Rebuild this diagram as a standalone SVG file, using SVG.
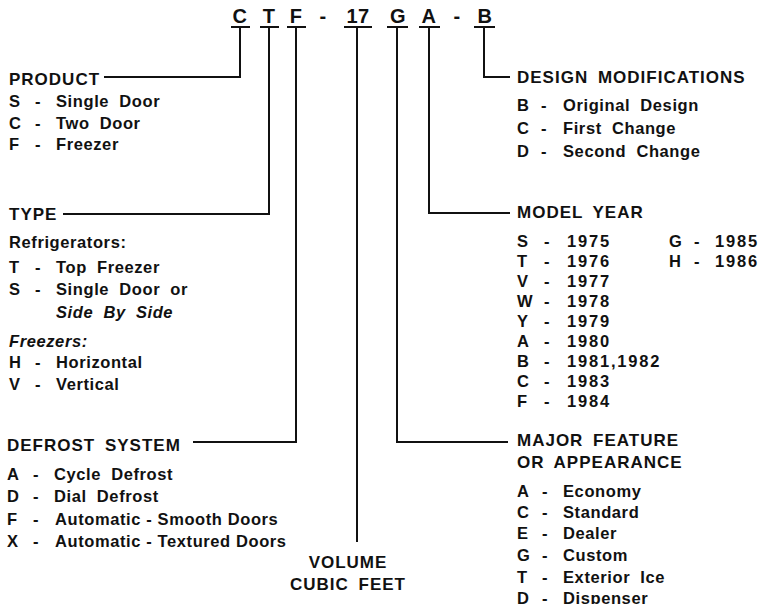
<svg xmlns="http://www.w3.org/2000/svg" width="763" height="604" viewBox="0 0 763 604">
<style>
text{font-family:"Liberation Sans",Arial,sans-serif;font-weight:bold;fill:#111}
.code{font-size:20px;letter-spacing:0.5px}
.h{font-size:17px;letter-spacing:1px;word-spacing:4px}
.i{font-size:16.5px;letter-spacing:0.6px}
.w{word-spacing:5px}
.y{letter-spacing:1.8px}
.it{font-style:italic}
.m{text-anchor:middle}
.ln{fill:none;stroke:#111;stroke-width:2}
</style>
<rect width="763" height="604" fill="#fff"/>
<g id="code">
<text class="code m" x="240" y="23">C</text>
<text class="code m" x="269" y="23">T</text>
<text class="code m" x="296" y="23">F</text>
<text class="code m" x="323" y="23">-</text>
<text class="code m" x="358" y="23">17</text>
<text class="code m" x="398" y="23">G</text>
<text class="code m" x="429" y="23">A</text>
<text class="code m" x="457" y="23">-</text>
<text class="code m" x="485" y="23">B</text>
<path class="ln" d="M231,27H250M260,27H279M287,27H306M344,27H372M387,27H408M419,27H440M474,27H495"/>
</g>
<g id="connectors">
<path class="ln" d="M240,27V77H104"/>
<path class="ln" d="M269,27V214H63"/>
<path class="ln" d="M296,27V442H193"/>
<path class="ln" d="M357,27V542"/>
<path class="ln" d="M397,27V442H508"/>
<path class="ln" d="M429,27V213H510"/>
<path class="ln" d="M484,27V77H510"/>
</g>
<g id="product">
<text class="h" x="9" y="85">PRODUCT</text>
<text class="i" x="9" y="107">S</text><text class="i m" x="38" y="107">-</text><text class="i w" x="56" y="107">Single Door</text>
<text class="i" x="9" y="128.5">C</text><text class="i m" x="38" y="128.5">-</text><text class="i w" x="56" y="128.5">Two Door</text>
<text class="i" x="9" y="150">F</text><text class="i m" x="38" y="150">-</text><text class="i" x="56" y="150">Freezer</text>
</g>
<g id="type">
<text class="h" x="9" y="220">TYPE</text>
<text class="i" x="9" y="248">Refrigerators:</text>
<text class="i" x="9" y="273">T</text><text class="i m" x="38" y="273">-</text><text class="i w" x="56" y="273">Top Freezer</text>
<text class="i" x="9" y="295">S</text><text class="i m" x="38" y="295">-</text><text class="i w" x="56" y="295">Single Door or</text>
<text class="i w it" x="56" y="318">Side By Side</text>
<text class="i it" x="9" y="347">Freezers:</text>
<text class="i" x="9" y="368">H</text><text class="i m" x="38" y="368">-</text><text class="i" x="56" y="368">Horizontal</text>
<text class="i" x="9" y="390">V</text><text class="i m" x="38" y="390">-</text><text class="i" x="56" y="390">Vertical</text>
</g>
<g id="defrost">
<text class="h" x="7" y="451">DEFROST SYSTEM</text>
<text class="i" x="7" y="480">A</text><text class="i m" x="36" y="480">-</text><text class="i w" x="54" y="480">Cycle Defrost</text>
<text class="i" x="7" y="502">D</text><text class="i m" x="36" y="502">-</text><text class="i w" x="54" y="502">Dial Defrost</text>
<text class="i" x="7" y="525">F</text><text class="i m" x="36" y="525">-</text><text class="i" x="55" y="525">Automatic - Smooth Doors</text>
<text class="i" x="7" y="547">X</text><text class="i m" x="36" y="547">-</text><text class="i" x="55" y="547">Automatic - Textured Doors</text>
</g>
<g id="volume">
<text class="h m" x="348" y="568">VOLUME</text>
<text class="h m" x="348" y="590">CUBIC FEET</text>
</g>
<g id="design">
<text class="h" x="517" y="83">DESIGN MODIFICATIONS</text>
<text class="i" x="517" y="111">B</text><text class="i m" x="544" y="111">-</text><text class="i w" x="563" y="111">Original Design</text>
<text class="i" x="517" y="134">C</text><text class="i m" x="544" y="134">-</text><text class="i w" x="563" y="134">First Change</text>
<text class="i" x="517" y="157">D</text><text class="i m" x="544" y="157">-</text><text class="i w" x="563" y="157">Second Change</text>
</g>
<g id="modelyear">
<text class="h" x="517" y="218">MODEL YEAR</text>
<text class="i" x="517" y="247">S</text><text class="i m" x="547" y="247">-</text><text class="i y" x="567" y="247">1975</text>
<text class="i" x="517" y="267">T</text><text class="i m" x="547" y="267">-</text><text class="i y" x="567" y="267">1976</text>
<text class="i" x="517" y="287">V</text><text class="i m" x="547" y="287">-</text><text class="i y" x="567" y="287">1977</text>
<text class="i" x="517" y="307">W</text><text class="i m" x="547" y="307">-</text><text class="i y" x="567" y="307">1978</text>
<text class="i" x="517" y="327">Y</text><text class="i m" x="547" y="327">-</text><text class="i y" x="567" y="327">1979</text>
<text class="i" x="517" y="347">A</text><text class="i m" x="547" y="347">-</text><text class="i y" x="567" y="347">1980</text>
<text class="i" x="517" y="367">B</text><text class="i m" x="547" y="367">-</text><text class="i y" x="567" y="367">1981,1982</text>
<text class="i" x="517" y="387">C</text><text class="i m" x="547" y="387">-</text><text class="i y" x="567" y="387">1983</text>
<text class="i" x="517" y="407">F</text><text class="i m" x="547" y="407">-</text><text class="i y" x="567" y="407">1984</text>
<text class="i" x="669" y="247">G</text><text class="i m" x="697" y="247">-</text><text class="i y" x="715" y="247">1985</text>
<text class="i" x="669" y="267">H</text><text class="i m" x="697" y="267">-</text><text class="i y" x="715" y="267">1986</text>
</g>
<g id="feature">
<text class="h" x="517" y="446">MAJOR FEATURE</text>
<text class="h" x="517" y="468">OR APPEARANCE</text>
<text class="i" x="517" y="497">A</text><text class="i m" x="545" y="497">-</text><text class="i" x="563" y="497">Economy</text>
<text class="i" x="517" y="518">C</text><text class="i m" x="545" y="518">-</text><text class="i" x="563" y="518">Standard</text>
<text class="i" x="517" y="539">E</text><text class="i m" x="545" y="539">-</text><text class="i" x="563" y="539">Dealer</text>
<text class="i" x="517" y="561">G</text><text class="i m" x="545" y="561">-</text><text class="i" x="563" y="561">Custom</text>
<text class="i" x="517" y="583">T</text><text class="i m" x="545" y="583">-</text><text class="i w" x="563" y="583">Exterior Ice</text>
<text class="i" x="517" y="604">D</text><text class="i m" x="545" y="604">-</text><text class="i" x="563" y="604">Dispenser</text>
</g>
</svg>
